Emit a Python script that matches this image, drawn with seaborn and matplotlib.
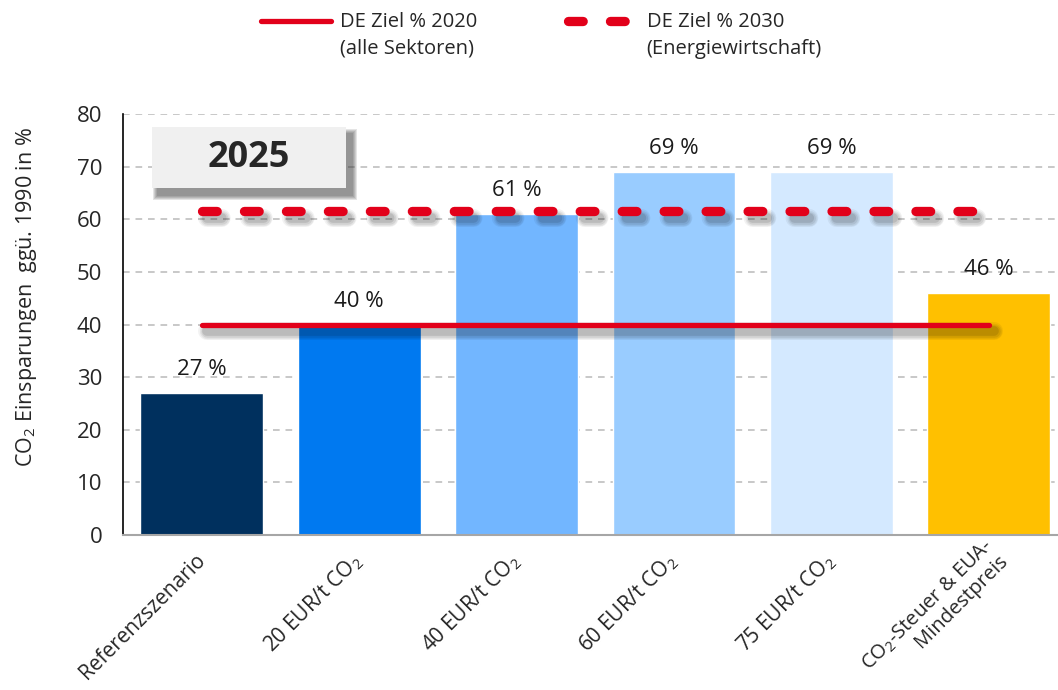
import matplotlib
matplotlib.use("Agg")
import numpy as np
import pandas as pd
import matplotlib.pyplot as plt
import matplotlib.patheffects as pe
from matplotlib.patches import Rectangle
from matplotlib.lines import Line2D
from matplotlib.legend_handler import HandlerLine2D
import seaborn as sns

# data
categories = ["Referenzszenario", "20 EUR/t CO$_\\mathregular{2}$", "40 EUR/t CO$_\\mathregular{2}$",
              "60 EUR/t CO$_\\mathregular{2}$", "75 EUR/t CO$_\\mathregular{2}$",
              "CO$_\\mathregular{2}$-Steuer & EUA-\nMindestpreis"]
savings = [27, 40, 61, 69, 69, 46]
bar_colors = ["#00305E", "#0079F0", "#72B6FF", "#99CCFF", "#D4E9FF", "#FFC000"]
target_2020 = 40
target_2030 = 61.6
legend_labels = ["DE Ziel % 2020\n(alle Sektoren)", "DE Ziel % 2030\n(Energiewirtschaft)"]
year_label = "2025"
yticks = [0, 10, 20, 30, 40, 50, 60, 70, 80]

RED = "#E2001A"
SOLID_LW = 3.8
DASH_LW = 6.7
DASHES = (1.58, 2.93)

sns.set_style("white")
plt.rcParams["font.family"] = ["Open Sans", "DejaVu Sans"]


def soft_shadow(dx=4, dy=-5):
    # a few wide, faint strokes stacked give a blurred drop shadow
    layers = [pe.Stroke(offset=(dx, dy), linewidth=w, foreground="black", alpha=a)
              for w, a in ((13, 0.05), (11, 0.06), (9, 0.08), (7, 0.10))]
    return layers + [pe.Normal()]


df = pd.DataFrame({"scenario": categories, "value": savings})

fig = plt.figure(figsize=(10.58, 6.9), dpi=100)
ax = fig.add_axes([0.1163, 0.2246, 0.8837, 0.6102])

sns.barplot(data=df, x="scenario", y="value", hue="scenario", palette=bar_colors,
            saturation=1, width=0.78, legend=False, ax=ax, zorder=2)

for cont in ax.containers:
    ax.bar_label(cont, fmt="{:.0f} %", padding=9, fontsize=16, color="#1a1a1a")

# target lines
xs = [0, len(categories) - 1]
ax.plot(xs, [target_2020] * 2, color=RED, lw=SOLID_LW, solid_capstyle="round",
        zorder=5, path_effects=soft_shadow())
ax.plot(xs, [target_2030] * 2, color=RED, lw=DASH_LW, dashes=DASHES,
        dash_capstyle="round", zorder=5, path_effects=soft_shadow())

ax.set_ylim(0, 80)
ax.set_xlim(-0.5, 5.44)
ax.set_yticks(yticks)
ax.yaxis.grid(True, ls=(0, (4, 3.5)), color="#BFBFBF", lw=1.2)
ax.xaxis.grid(False)
ax.set_axisbelow(True)

# ticks at category boundaries, labels at the centres (rotated, end at the centre)
ax.set_xticks(np.arange(len(categories)) - 0.5)
ax.set_xticklabels([])
ax.tick_params(axis="x", which="major", direction="out", length=7, width=1.2, color="black")
for i, lab in enumerate(categories):
    two_lines = "\n" in lab
    ax.annotate(lab, xy=(i, 0), xycoords=("data", "axes fraction"),
                xytext=(6, -11) if two_lines else (0, -16), textcoords="offset points",
                rotation=45, ha="right", va="center", rotation_mode="anchor",
                fontsize=14.5 if two_lines else 15, linespacing=1.0,
                annotation_clip=False)
ax.tick_params(axis="y", direction="out", length=6, width=1.2, color="black",
               labelsize=16, pad=9)

for s in ["top", "right"]:
    ax.spines[s].set_visible(False)
ax.spines["left"].set_color("black")
ax.spines["left"].set_linewidth(1.2)
ax.spines["bottom"].set_color("#A6A6A6")
ax.spines["bottom"].set_linewidth(1.5)

ax.set_xlabel("")
ax.set_ylabel("CO$_\\mathregular{2}$ Einsparungen  ggü. 1990 in %", fontsize=15.5)
ax.yaxis.set_label_coords(-0.09, 0.565)

# "2025" box with a soft shadow
bx, by, bw, bh = 0.031, 0.824, 0.2075, 0.145
px, py = 1 / 935, 1 / 421
for k in range(10, 0, -2):
    ax.add_patch(Rectangle((bx + 6 * px - k * px / 2, by - 7 * py - k * py / 2),
                           bw + k * px, bh + k * py, transform=ax.transAxes,
                           fc="#303030", ec="none", alpha=0.13, zorder=6, clip_on=False))
ax.add_patch(Rectangle((bx, by), bw, bh, transform=ax.transAxes,
                       fc="#F0F0F0", ec="none", zorder=7, clip_on=False))
ax.text(bx + bw / 2, by + bh / 2, year_label, transform=ax.transAxes, ha="center",
        va="center", fontsize=26, fontweight="bold", zorder=8)


class FirstLineHandler(HandlerLine2D):
    def create_artists(self, legend, orig_handle, xdescent, ydescent, width, height,
                       fontsize, trans):
        arts = super().create_artists(legend, orig_handle, xdescent, ydescent, width,
                                      height, fontsize, trans)
        for a in arts:
            a.set_ydata(np.asarray(a.get_ydata()) + 0.72 * fontsize)
        return arts


handles = [Line2D([], [], color=RED, lw=SOLID_LW, solid_capstyle="round"),
           Line2D([], [], color=RED, lw=DASH_LW, dashes=DASHES, dash_capstyle="round")]
anchors = [261 / 1058, 568 / 1058]
for h, lab, x0 in zip(handles, legend_labels, anchors):
    leg = fig.legend([h], [lab], loc="upper left", bbox_to_anchor=(x0, 1 - 12 / 690),
                     frameon=False, fontsize=14.5, handlelength=3.5, handletextpad=0.4,
                     borderpad=0, borderaxespad=0,
                     handler_map={Line2D: FirstLineHandler()})
    for t in leg.get_texts():
        t.set_linespacing(1.45)

fig.savefig("out.png", dpi=100)
